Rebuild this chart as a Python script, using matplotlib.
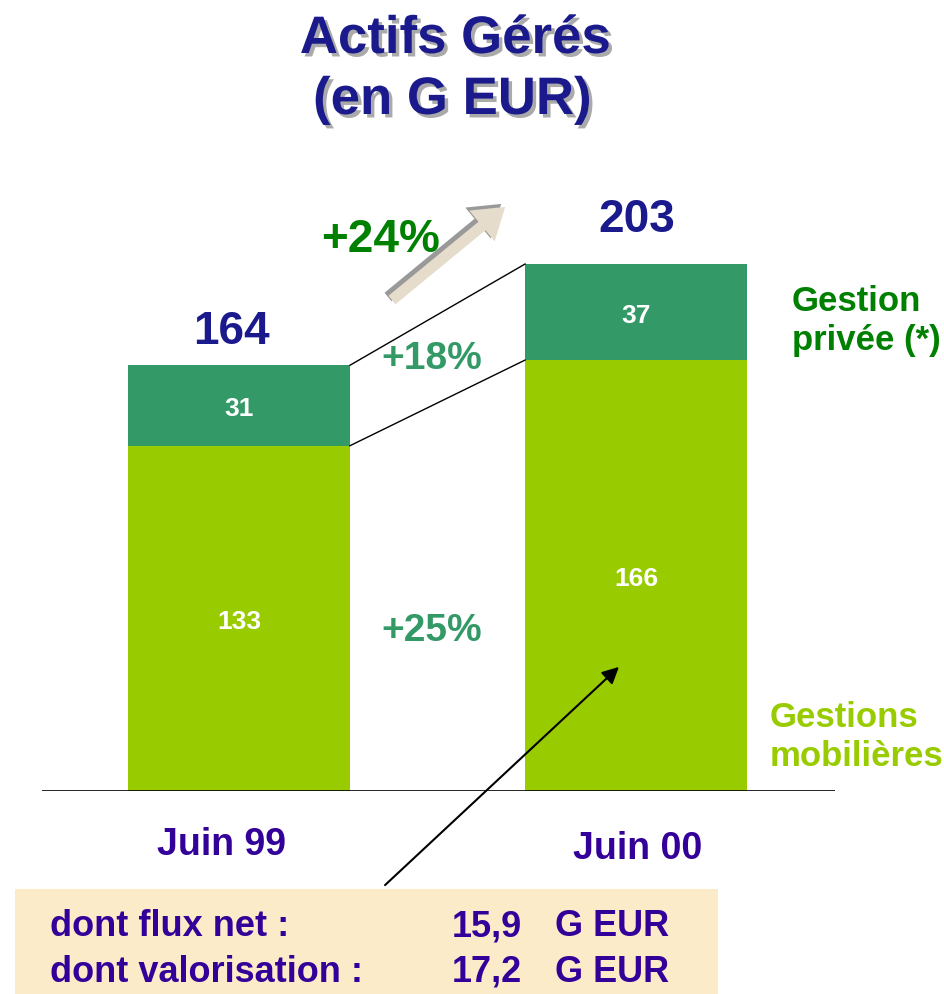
import matplotlib.pyplot as plt
import matplotlib.patheffects as pe
from matplotlib.patches import FancyArrow, Rectangle

plt.rcParams['font.family'] = ['Liberation Sans', 'DejaVu Sans']

# data
periods = ["Juin 99", "Juin 00"]
mobilieres = [133, 166]
privee = [31, 37]
totals = [164, 203]
growth_total = "+24%"
growth_privee = "+18%"
growth_mob = "+25%"
notes = ["dont flux net :", "dont valorisation :"]
note_values = ["15,9", "17,2"]

W, H = 945, 995
fig = plt.figure(figsize=(W / 100, H / 100), dpi=100)

def fx(px):
    return px / W

def fy(py):
    return 1 - py / H

# main axes: baseline at y=792 px, 2.596 px per unit
scale = 2.596
ymax = 240
ax = fig.add_axes([fx(42), fy(792), fx(835) - fx(42), ymax * scale / H])
ax.set_xlim(-0.496, 1.501)
ax.set_ylim(0, ymax)
ax.axis('off')
ax.axhline(0, color='black', lw=1.2)

x = [0, 1]
bw = 0.559
light = '#99cc00'
dark = '#339966'
ax.bar(x, mobilieres, width=bw, color=light)
ax.bar(x, privee, width=bw, bottom=mobilieres, color=dark)

# connecting lines between bars
ax.plot([x[0] + bw / 2, x[1] - bw / 2], [totals[0], totals[1]], color='black', lw=1)
ax.plot([x[0] + bw / 2, x[1] - bw / 2], [mobilieres[0], mobilieres[1]], color='black', lw=1)

for i in range(2):
    ax.text(x[i], mobilieres[i] / 2, str(mobilieres[i]), color='white',
            ha='center', va='center_baseline', fontsize=19, fontweight='bold')
    ax.text(x[i], mobilieres[i] + privee[i] / 2, str(privee[i]), color='white',
            ha='center', va='center_baseline', fontsize=19, fontweight='bold')

navy = '#1a1a8c'
indigo = '#330099'
fig.text(fx(231), fy(332), str(totals[0]), color=navy, fontsize=33,
         fontweight='bold', ha='center', va='center')
fig.text(fx(637), fy(220), str(totals[1]), color=navy, fontsize=33,
         fontweight='bold', ha='center', va='center')

fig.text(fx(222), fy(845), periods[0], color=indigo, fontsize=27,
         fontweight='bold', ha='center', va='center')
fig.text(fx(638), fy(849), periods[1], color=indigo, fontsize=27,
         fontweight='bold', ha='center', va='center')

# growth labels
fig.text(fx(432), fy(359), growth_privee, color=dark, fontsize=28,
         fontweight='bold', ha='center', va='center')
fig.text(fx(432), fy(631), growth_mob, color=dark, fontsize=28,
         fontweight='bold', ha='center', va='center')
fig.text(fx(381), fy(240), growth_total, color='#008000', fontsize=33,
         fontweight='bold', ha='center', va='center')

# series labels on the right
fig.text(fx(792), fy(321), "Gestion\nprivée (*)", color='#008000', fontsize=25,
         fontweight='bold', ha='left', va='center', linespacing=1.2)
fig.text(fx(770), fy(737), "Gestions\nmobilières", color=light, fontsize=25,
         fontweight='bold', ha='left', va='center', linespacing=1.2)

# title with grey shadow
shadow = [pe.withSimplePatchShadow(offset=(2.5, -2.5), shadow_rgbFace='#aaaaaa', alpha=1)]
fig.text(fx(455), fy(40), "Actifs Gérés", color=navy, fontsize=38,
         fontweight='bold', ha='center', va='center', path_effects=shadow)
fig.text(fx(452), fy(101), "(en G EUR)", color=navy, fontsize=38,
         fontweight='bold', ha='center', va='center', path_effects=shadow)

# beige growth arrow with grey shadow
fa = fig.add_axes([0, 0, 1, 1], zorder=-1)
fa.set_xlim(0, W)
fa.set_ylim(H, 0)
fa.axis('off')
fa.add_patch(FancyArrow(388, 298, 90, -74, width=11, head_width=40,
                        head_length=30, color='#999999', lw=0))
fa.add_patch(FancyArrow(392, 301, 90, -74, width=11, head_width=40,
                        head_length=30, color='#e6dccb', lw=0))

# note box
fa.add_patch(Rectangle((15, 890), 703, 105, color='#fbebc8', lw=0))

ov = fig.add_axes([0, 0, 1, 1], zorder=5)
ov.set_xlim(0, W)
ov.set_ylim(H, 0)
ov.axis('off')
ov.annotate("", xy=(621, 666), xytext=(383, 888),
            arrowprops=dict(arrowstyle='-|>', color='black', lw=1.5,
                            mutation_scale=25))
for i, ypos in enumerate([927, 972]):
    ov.text(50, ypos, notes[i], color=indigo, fontsize=26, fontweight='bold',
            ha='left', va='center')
    ov.text(452, ypos, note_values[i], color=indigo, fontsize=26,
            fontweight='bold', ha='left', va='center')
    ov.text(555, ypos, "G EUR", color=indigo, fontsize=26, fontweight='bold',
            ha='left', va='center')

fig.savefig('out.png', dpi=100)
